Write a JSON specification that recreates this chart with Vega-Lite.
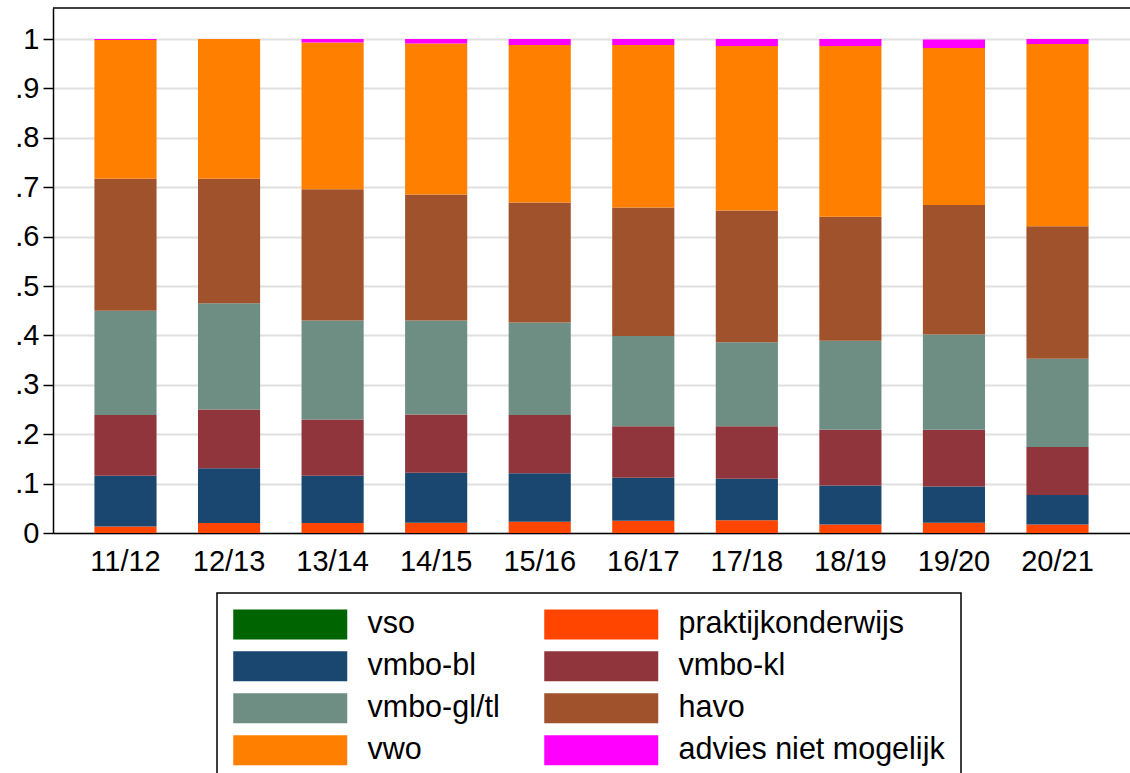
{
  "$schema": "https://vega.github.io/schema/vega-lite/v6.json",
  "autosize": "none",
  "width": 1077,
  "height": 525,
  "padding": {"left": 53, "top": 8, "right": 0, "bottom": 240},
  "background": "white",
  "config": {
    "view": {"stroke": null},
    "font": "Liberation Sans",
    "axis": {"labelFont": "Liberation Sans", "labelFontSize": 29, "labelColor": "black", "domainColor": "black", "tickColor": "black", "domainWidth": 1.5, "tickWidth": 1.5},
    "legend": {"strokeWidth": 1.5}
  },
  "datasets": {
    "shares": [
      {"jaar": "11/12", "advies": "vso", "aandeel": 0},
      {"jaar": "11/12", "advies": "praktijkonderwijs", "aandeel": 0.013},
      {"jaar": "11/12", "advies": "vmbo-bl", "aandeel": 0.103},
      {"jaar": "11/12", "advies": "vmbo-kl", "aandeel": 0.123},
      {"jaar": "11/12", "advies": "vmbo-gl/tl", "aandeel": 0.211},
      {"jaar": "11/12", "advies": "havo", "aandeel": 0.267},
      {"jaar": "11/12", "advies": "vwo", "aandeel": 0.281},
      {"jaar": "11/12", "advies": "advies niet mogelijk", "aandeel": 0.002},
      {"jaar": "12/13", "advies": "vso", "aandeel": 0},
      {"jaar": "12/13", "advies": "praktijkonderwijs", "aandeel": 0.02},
      {"jaar": "12/13", "advies": "vmbo-bl", "aandeel": 0.111},
      {"jaar": "12/13", "advies": "vmbo-kl", "aandeel": 0.119},
      {"jaar": "12/13", "advies": "vmbo-gl/tl", "aandeel": 0.215},
      {"jaar": "12/13", "advies": "havo", "aandeel": 0.252},
      {"jaar": "12/13", "advies": "vwo", "aandeel": 0.283},
      {"jaar": "12/13", "advies": "advies niet mogelijk", "aandeel": 0},
      {"jaar": "13/14", "advies": "vso", "aandeel": 0},
      {"jaar": "13/14", "advies": "praktijkonderwijs", "aandeel": 0.02},
      {"jaar": "13/14", "advies": "vmbo-bl", "aandeel": 0.096},
      {"jaar": "13/14", "advies": "vmbo-kl", "aandeel": 0.114},
      {"jaar": "13/14", "advies": "vmbo-gl/tl", "aandeel": 0.2},
      {"jaar": "13/14", "advies": "havo", "aandeel": 0.266},
      {"jaar": "13/14", "advies": "vwo", "aandeel": 0.297},
      {"jaar": "13/14", "advies": "advies niet mogelijk", "aandeel": 0.007},
      {"jaar": "14/15", "advies": "vso", "aandeel": 0},
      {"jaar": "14/15", "advies": "praktijkonderwijs", "aandeel": 0.021},
      {"jaar": "14/15", "advies": "vmbo-bl", "aandeel": 0.101},
      {"jaar": "14/15", "advies": "vmbo-kl", "aandeel": 0.118},
      {"jaar": "14/15", "advies": "vmbo-gl/tl", "aandeel": 0.19},
      {"jaar": "14/15", "advies": "havo", "aandeel": 0.255},
      {"jaar": "14/15", "advies": "vwo", "aandeel": 0.306},
      {"jaar": "14/15", "advies": "advies niet mogelijk", "aandeel": 0.009},
      {"jaar": "15/16", "advies": "vso", "aandeel": 0},
      {"jaar": "15/16", "advies": "praktijkonderwijs", "aandeel": 0.023},
      {"jaar": "15/16", "advies": "vmbo-bl", "aandeel": 0.098},
      {"jaar": "15/16", "advies": "vmbo-kl", "aandeel": 0.118},
      {"jaar": "15/16", "advies": "vmbo-gl/tl", "aandeel": 0.187},
      {"jaar": "15/16", "advies": "havo", "aandeel": 0.243},
      {"jaar": "15/16", "advies": "vwo", "aandeel": 0.319},
      {"jaar": "15/16", "advies": "advies niet mogelijk", "aandeel": 0.012},
      {"jaar": "16/17", "advies": "vso", "aandeel": 0},
      {"jaar": "16/17", "advies": "praktijkonderwijs", "aandeel": 0.025},
      {"jaar": "16/17", "advies": "vmbo-bl", "aandeel": 0.087},
      {"jaar": "16/17", "advies": "vmbo-kl", "aandeel": 0.104},
      {"jaar": "16/17", "advies": "vmbo-gl/tl", "aandeel": 0.183},
      {"jaar": "16/17", "advies": "havo", "aandeel": 0.26},
      {"jaar": "16/17", "advies": "vwo", "aandeel": 0.329},
      {"jaar": "16/17", "advies": "advies niet mogelijk", "aandeel": 0.012},
      {"jaar": "17/18", "advies": "vso", "aandeel": 0},
      {"jaar": "17/18", "advies": "praktijkonderwijs", "aandeel": 0.026},
      {"jaar": "17/18", "advies": "vmbo-bl", "aandeel": 0.084},
      {"jaar": "17/18", "advies": "vmbo-kl", "aandeel": 0.106},
      {"jaar": "17/18", "advies": "vmbo-gl/tl", "aandeel": 0.17},
      {"jaar": "17/18", "advies": "havo", "aandeel": 0.267},
      {"jaar": "17/18", "advies": "vwo", "aandeel": 0.333},
      {"jaar": "17/18", "advies": "advies niet mogelijk", "aandeel": 0.014},
      {"jaar": "18/19", "advies": "vso", "aandeel": 0},
      {"jaar": "18/19", "advies": "praktijkonderwijs", "aandeel": 0.017},
      {"jaar": "18/19", "advies": "vmbo-bl", "aandeel": 0.079},
      {"jaar": "18/19", "advies": "vmbo-kl", "aandeel": 0.113},
      {"jaar": "18/19", "advies": "vmbo-gl/tl", "aandeel": 0.18},
      {"jaar": "18/19", "advies": "havo", "aandeel": 0.251},
      {"jaar": "18/19", "advies": "vwo", "aandeel": 0.346},
      {"jaar": "18/19", "advies": "advies niet mogelijk", "aandeel": 0.014},
      {"jaar": "19/20", "advies": "vso", "aandeel": 0},
      {"jaar": "19/20", "advies": "praktijkonderwijs", "aandeel": 0.021},
      {"jaar": "19/20", "advies": "vmbo-bl", "aandeel": 0.073},
      {"jaar": "19/20", "advies": "vmbo-kl", "aandeel": 0.115},
      {"jaar": "19/20", "advies": "vmbo-gl/tl", "aandeel": 0.193},
      {"jaar": "19/20", "advies": "havo", "aandeel": 0.262},
      {"jaar": "19/20", "advies": "vwo", "aandeel": 0.318},
      {"jaar": "19/20", "advies": "advies niet mogelijk", "aandeel": 0.017},
      {"jaar": "20/21", "advies": "vso", "aandeel": 0},
      {"jaar": "20/21", "advies": "praktijkonderwijs", "aandeel": 0.017},
      {"jaar": "20/21", "advies": "vmbo-bl", "aandeel": 0.06},
      {"jaar": "20/21", "advies": "vmbo-kl", "aandeel": 0.097},
      {"jaar": "20/21", "advies": "vmbo-gl/tl", "aandeel": 0.179},
      {"jaar": "20/21", "advies": "havo", "aandeel": 0.268},
      {"jaar": "20/21", "advies": "vwo", "aandeel": 0.369},
      {"jaar": "20/21", "advies": "advies niet mogelijk", "aandeel": 0.01}
    ],
    "frame": [{"top": 1.0628}]
  },
  "layer": [
    {
      "data": {"name": "shares"},
      "transform": [
        {"calculate": "indexof(['vso', 'praktijkonderwijs', 'vmbo-bl', 'vmbo-kl', 'vmbo-gl/tl', 'havo', 'vwo', 'advies niet mogelijk'], datum.advies)", "as": "volgorde"}
      ],
      "mark": {"type": "bar"},
      "encoding": {
        "x": {
          "field": "jaar", "type": "nominal", "sort": null,
          "scale": {"paddingInner": 0.4, "paddingOuter": 0.4},
          "axis": {"title": null, "labelAngle": 0, "ticks": false, "labelPadding": 14, "grid": false}
        },
        "y": {
          "field": "aandeel", "type": "quantitative", "stack": "zero",
          "scale": {"domain": [0, 1.0628], "nice": false, "zero": true},
          "axis": {
            "title": null, "values": [0, 0.1, 0.2, 0.3, 0.4, 0.5, 0.6, 0.7, 0.8, 0.9, 1],
            "labelExpr": "datum.value == 0 ? '0' : datum.value == 1 ? '1' : replace(format(datum.value, '.1f'), '0.', '.')",
            "tickSize": 10, "labelPadding": 4, "grid": true, "gridColor": "#e0e0e0", "gridWidth": 2
          }
        },
        "order": {"field": "volgorde", "type": "quantitative", "sort": "ascending"},
        "color": {
          "field": "advies", "type": "nominal",
          "sort": ["vso", "praktijkonderwijs", "vmbo-bl", "vmbo-kl", "vmbo-gl/tl", "havo", "vwo", "advies niet mogelijk"],
          "scale": {
            "domain": ["vso", "praktijkonderwijs", "vmbo-bl", "vmbo-kl", "vmbo-gl/tl", "havo", "vwo", "advies niet mogelijk"],
            "range": ["#006400", "#ff4500", "#1a476f", "#90353b", "#6e8e84", "#a0522d", "#ff7f00", "#ff00ff"]
          },
          "legend": {
            "title": null, "orient": "none", "legendX": 164, "legendY": 585,
            "columns": 2, "direction": "horizontal",
            "symbolType": "M-1,-1H6.6V1H-1Z", "symbolSize": 900, "symbolStrokeWidth": 0, "symbolOpacity": 1,
            "labelFont": "Liberation Sans", "labelFontSize": 30.5, "labelColor": "black", "labelOffset": 104, "labelLimit": 400,
            "rowPadding": 11, "columnPadding": 44, "padding": 16,
            "strokeColor": "black", "fillColor": "white"
          }
        }
      }
    },
    {
      "data": {"name": "frame"},
      "mark": {"type": "rule", "color": "black", "strokeWidth": 1.5},
      "encoding": {"y": {"field": "top", "type": "quantitative"}}
    }
  ]
}
